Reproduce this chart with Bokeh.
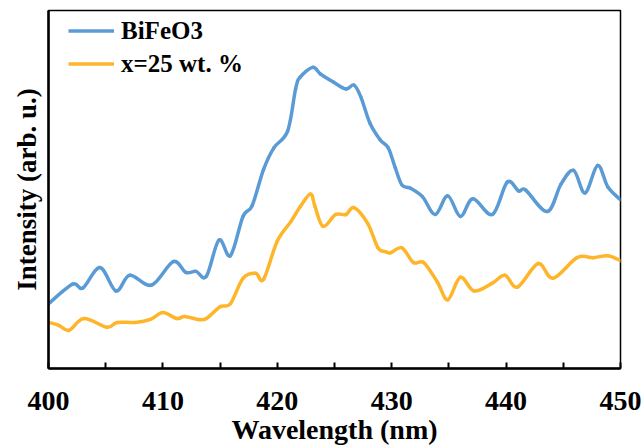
from bokeh.plotting import figure
from bokeh.models import FixedTicker, Range1d, Legend, LegendItem
from bokeh.embed import file_html
from bokeh.resources import INLINE

# Wavelength (nm) and intensity (arb. u.)
bfo_wl = [400.0, 402.1, 403.0, 404.5, 405.9, 407.1, 409.0, 410.9, 412.0, 412.9,
          413.8, 414.9, 415.9, 417.0, 417.8, 418.8, 419.7, 420.9, 421.6, 422.0,
          423.1, 423.8, 424.9, 426.0, 426.7, 427.3, 428.1, 429.0, 429.7, 430.3,
          430.9, 431.6, 432.7, 433.8, 434.9, 436.0, 437.1, 438.8, 440.1, 441.1,
          441.7, 443.6, 444.8, 445.9, 446.9, 448.0, 448.9, 450.0]
bfo_int = [66, 86, 82, 103, 79, 95, 85, 109, 98, 99,
           94, 131, 115, 155, 166, 203, 225, 242, 285, 297,
           307, 300, 292, 285, 289, 277, 250, 233, 225, 205,
           187, 184, 175, 157, 176, 155, 173, 157, 190, 181,
           182, 160, 188, 202, 179, 207, 185, 172]

x25_wl = [400.0, 400.9, 401.8, 403.1, 405.1, 406.0, 407.6, 408.9, 410.0, 411.2,
          411.9, 413.1, 413.8, 415.0, 415.9, 417.0, 418.1, 418.8, 420.0, 421.2,
          422.0, 422.9, 423.3, 424.0, 425.1, 426.0, 426.7, 427.9, 428.8, 429.5,
          429.9, 430.9, 431.9, 432.8, 434.0, 434.9, 436.0, 437.2, 438.8, 439.9,
          441.0, 442.8, 444.1, 446.2, 447.6, 448.9, 450.0]
x25_int = [47, 44, 39, 51, 42, 47, 47, 50, 57, 51,
           53, 50, 51, 63, 66, 92, 97, 91, 130, 150,
           165, 178, 165, 145, 157, 157, 164, 148, 123, 119,
           118, 123, 108, 108, 88, 70, 93, 79, 87, 95,
           83, 107, 92, 113, 113, 115, 110]

major_ticks = [400, 410, 420, 430, 440, 450]
minor_ticks = [405, 415, 425, 435, 445]

FONT = "Liberation Serif"
BLUE = "#5B9BD5"
ORANGE = "#FFB52A"


def smooth_segments(xs, ys):
    """Catmull-Rom control points (as Excel's smoothed line) for each segment."""
    n = len(xs)
    out = {k: [] for k in ("x0", "y0", "x1", "y1", "cx0", "cy0", "cx1", "cy1")}
    for i in range(n - 1):
        a = max(i - 1, 0)
        b = min(i + 2, n - 1)
        out["x0"].append(xs[i]); out["y0"].append(ys[i])
        out["x1"].append(xs[i + 1]); out["y1"].append(ys[i + 1])
        out["cx0"].append(xs[i] + (xs[i + 1] - xs[a]) / 6.0)
        out["cy0"].append(ys[i] + (ys[i + 1] - ys[a]) / 6.0)
        out["cx1"].append(xs[i + 1] - (xs[b] - xs[i]) / 6.0)
        out["cy1"].append(ys[i + 1] - (ys[b] - ys[i]) / 6.0)
    return out


p = figure(width=643, height=447, output_backend="svg", toolbar_location=None,
           x_range=Range1d(400, 450), y_range=Range1d(0, 365),
           min_border_left=48, min_border_right=23, min_border_top=10,
           min_border_bottom=72)

p.xgrid.visible = False
p.ygrid.visible = False
p.outline_line_color = "black"
p.outline_line_width = 1.5
p.background_fill_color = "white"
p.border_fill_color = "white"

for xs, ys, col in ((bfo_wl, bfo_int, BLUE), (x25_wl, x25_int, ORANGE)):
    s = smooth_segments(xs, ys)
    p.bezier(x0=s["x0"], y0=s["y0"], x1=s["x1"], y1=s["y1"],
             cx0=s["cx0"], cy0=s["cy0"], cx1=s["cx1"], cy1=s["cy1"],
             line_color=col, line_width=3.5, line_cap="round")

# line renderers used only for legend entries
r1 = p.line(bfo_wl, bfo_int, line_color=BLUE, line_width=3.5, visible=False)
r2 = p.line(x25_wl, x25_int, line_color=ORANGE, line_width=3.5, visible=False)

xa = p.xaxis[0]
xa.ticker = FixedTicker(ticks=major_ticks, minor_ticks=minor_ticks)
xa.axis_line_color = "black"
xa.axis_line_width = 2.5
xa.major_tick_in = 6
xa.major_tick_out = 0
xa.minor_tick_in = 6
xa.minor_tick_out = 0
xa.major_tick_line_width = 2
xa.minor_tick_line_width = 2
xa.major_tick_line_color = "black"
xa.minor_tick_line_color = "black"
xa.major_label_text_font = FONT
xa.major_label_text_font_style = "bold"
xa.major_label_text_font_size = "28px"
xa.major_label_text_color = "black"
xa.major_label_standoff = 23
xa.axis_label = "Wavelength (nm)"
xa.axis_label_text_font = FONT
xa.axis_label_text_font_style = "bold"
xa.axis_label_text_font_size = "28px"
xa.axis_label_text_color = "black"
xa.axis_label_standoff = 1

ya = p.yaxis[0]
ya.ticker = FixedTicker(ticks=[])
ya.axis_line_color = "black"
ya.axis_line_width = 2.5
ya.major_tick_line_color = None
ya.minor_tick_line_color = None
ya.axis_label = "Intensity (arb. u.)"
ya.axis_label_text_font = FONT
ya.axis_label_text_font_style = "bold"
ya.axis_label_text_font_size = "27px"
ya.axis_label_text_color = "black"
ya.axis_label_standoff = 7

legend = Legend(items=[LegendItem(label="BiFeO3", renderers=[r1]),
                       LegendItem(label="x=25 wt. %", renderers=[r2])],
                location=(20, 288))
legend.label_text_font = FONT
legend.label_text_font_style = "bold"
legend.label_text_font_size = "25px"
legend.label_text_color = "black"
legend.glyph_width = 46
legend.glyph_height = 33
legend.label_height = 33
legend.label_standoff = 7
legend.spacing = 0
legend.padding = 0
legend.margin = 0
legend.border_line_color = None
legend.background_fill_alpha = 0
legend.click_policy = "none"
p.add_layout(legend)

open("out.html", "w").write(file_html(p, INLINE))
